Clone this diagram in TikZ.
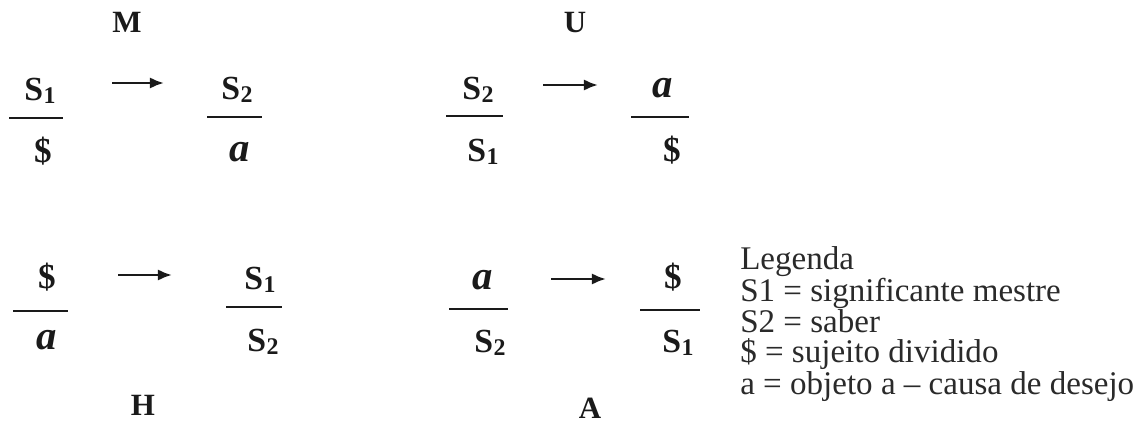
\documentclass[tikz,border=0pt]{standalone}
\usepackage{fontspec}
\setmainfont{Liberation Serif}
\usetikzlibrary{arrows.meta}
\definecolor{ink}{HTML}{1A1A1A}
\definecolor{leg}{HTML}{2A2A2A}

% signifier with its index set a bit low, as in the print
\newcommand{\Sg}[1]{S\kern0.3pt\raisebox{-1.8pt}{\fontsize{17}{17}\selectfont#1}}
\newcommand{\Sb}{{\fontsize{25}{25}\selectfont\$}}
\newcommand{\ob}{{\fontsize{29}{29}\selectfont\textit{a}}}

\begin{document}
\begin{tikzpicture}[
    x=0.025cm,y=-0.025cm,
    sym/.style={ink,font=\fontsize{24}{24}\selectfont\bfseries,inner sep=0pt},
    disc/.style={ink,font=\fontsize{22}{22}\selectfont\bfseries,inner sep=0pt},
    bar/.style={ink,line width=1.4pt},
    flow/.style={ink,line width=1.8pt,-{Latex[length=10pt,width=8pt]}},
  ]

  \useasboundingbox[fill=white] (0,0) rectangle (1143,446);

  % ============================================================= FRACTIONS
  % #1 name  #2/#3 numerator  #4/#5 denominator  #6/#7/#8 bar  #9 top  #10 bottom
  \foreach \n/\xn/\yn/\xd/\yd/\bl/\br/\by/\tp/\bt in {
      mA/40/91/43/151/9/63/118/{\Sg{1}}/{\Sb},
      mB/237/90/240/152/207/262/117/{\Sg{2}}/{\ob},
      uA/478/90/483/152/446/503/116/{\Sg{2}}/{\Sg{1}},
      uB/663/88/672/150/631/689/117/{\ob}/{\Sb},
      hA/47/277/47/340/13/68/311/{\Sb}/{\ob},
      hB/260/280/263/342/226/282/307/{\Sg{1}}/{\Sg{2}},
      aA/483/280/490/343/449/508/309/{\ob}/{\Sg{2}},
      aB/673/277/678/343/640/700/310/{\Sb}/{\Sg{1}}}{
    \node[sym] (\n-top) at (\xn,\yn) {\tp};
    \node[sym] (\n-bot) at (\xd,\yd) {\bt};
    \draw[bar] (\bl,\by) -- (\br,\by);
  }

  % ============================================================= ARROWS
  \foreach \n/\xa/\xb/\y in {m/112/164/83, u/543/598/85, h/118/172/275, a/551/606/279}{
    \coordinate (\n-from) at (\xa,\y);
    \coordinate (\n-to) at (\xb,\y);
    \draw[flow] (\n-from) -- (\n-to);
  }

  % ============================================================= DISCOURSES
  \foreach \n/\x/\y/\ltr in {dM/127/22/M, dU/575/23/U, dH/143/405/H, dA/590/408/A}{
    \node[disc] (\n) at (\x,\y) {\ltr};
  }

  % ============================================================= LEGEND
  % base of a multi-line node is the last line's baseline
  \node[leg,anchor=base west,align=left,inner sep=0pt,
        font=\fontsize{23.5}{21.3}\selectfont] (legend) at (740,394)
    {Legenda\\
     S1 = significante mestre\\
     S2 = saber\\
     \$ = sujeito dividido\\
     a = objeto a -- causa de desejo};

\end{tikzpicture}
\end{document}
